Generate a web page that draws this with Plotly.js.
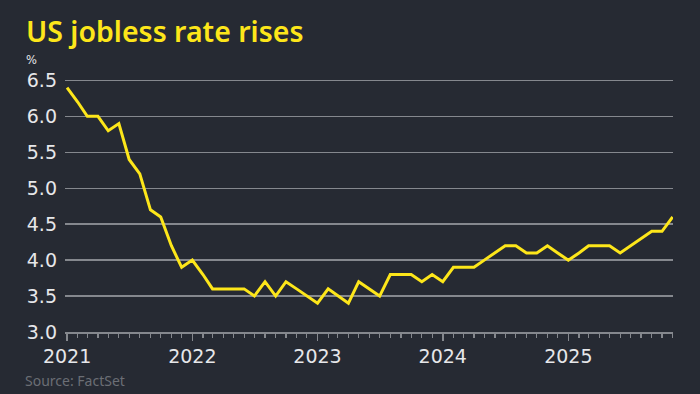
<!DOCTYPE html>
<html>
<head>
<meta charset="utf-8">
<script src="https://cdn.plot.ly/plotly-3.0.1.min.js"></script>
<style>
html,body{margin:0;padding:0;background:#262a33;}
#chart{width:700px;height:394px;}
</style>
</head>
<body>
<div id="chart"></div>
<script>
// Monthly US unemployment rate, Jan 2021 – Nov 2025 (%)
var months = [
  "2021-01","2021-02","2021-03","2021-04","2021-05","2021-06","2021-07","2021-08","2021-09","2021-10","2021-11","2021-12",
  "2022-01","2022-02","2022-03","2022-04","2022-05","2022-06","2022-07","2022-08","2022-09","2022-10","2022-11","2022-12",
  "2023-01","2023-02","2023-03","2023-04","2023-05","2023-06","2023-07","2023-08","2023-09","2023-10","2023-11","2023-12",
  "2024-01","2024-02","2024-03","2024-04","2024-05","2024-06","2024-07","2024-08","2024-09","2024-10","2024-11","2024-12",
  "2025-01","2025-02","2025-03","2025-04","2025-05","2025-06","2025-07","2025-08","2025-09","2025-10","2025-11"
];
var rate = [
  6.4,6.2,6.0,6.0,5.8,5.9,5.4,5.2,4.7,4.6,4.2,3.9,
  4.0,3.8,3.6,3.6,3.6,3.6,3.5,3.7,3.5,3.7,3.6,3.5,
  3.4,3.6,3.5,3.4,3.7,3.6,3.5,3.8,3.8,3.8,3.7,3.8,
  3.7,3.9,3.9,3.9,4.0,4.1,4.2,4.2,4.1,4.1,4.2,4.1,
  4.0,4.1,4.2,4.2,4.2,4.1,4.2,4.3,4.4,4.4,4.6
];
var yTicks = [3.0,3.5,4.0,4.5,5.0,5.5,6.0,6.5];
var yTickText = ["3.0","3.5","4.0","4.5","5.0","5.5","6.0","6.5"];
var xTicks = ["2021-01-01","2022-01-01","2023-01-01","2024-01-01","2025-01-01"];
var xTickText = ["2021","2022","2023","2024","2025"];
var titleText = "US jobless rate rises";
var unitText = "%";
var sourceText = "Source: FactSet";

var bg = "#262a33";
var grid = "#85888e";
var yellow = "#fde61a";
var tickFont = "'DejaVu Sans', sans-serif";
var textFont = "'Noto Sans', sans-serif";

var W = 700, H = 394, ML = 65, MR = 27, MT = 79, MB = 62;
var PW = W - ML - MR, PH = H - MT - MB;
function px(x) { return (x - ML) / PW; }
function py(y) { return (H - MB - y) / PH; }

var trace = {
  x: months,
  y: rate,
  type: "scatter",
  mode: "lines",
  line: {color: yellow, width: 3, shape: "linear"},
  hoverinfo: "skip"
};

var layout = {
  width: W,
  height: H,
  paper_bgcolor: bg,
  plot_bgcolor: bg,
  margin: {l: ML, r: MR, t: MT, b: MB},
  showlegend: false,
  font: {family: tickFont, color: "#e6e7ea"},
  xaxis: {
    type: "date",
    range: ["2020-12-26", "2025-11-02"],
    tickmode: "array",
    tickvals: xTicks,
    ticktext: xTickText,
    ticks: "outside",
    ticklen: 7,
    tickwidth: 1.5,
    tickcolor: grid,
    showline: true,
    linecolor: grid,
    linewidth: 1.5,
    showgrid: false,
    zeroline: false,
    tickfont: {family: tickFont, size: 19, color: "#e6e7ea"},
    minor: {dtick: "M1", tick0: "2021-01-01", ticks: "outside", ticklen: 4, tickwidth: 1.2, tickcolor: grid, showgrid: false},
    fixedrange: true
  },
  yaxis: {
    range: [3.0, 6.52],
    tickmode: "array",
    tickvals: yTicks,
    ticktext: yTickText,
    showgrid: true,
    gridcolor: grid,
    gridwidth: 1.5,
    zeroline: false,
    showline: false,
    ticks: "",
    ticklabelstandoff: 7,
    tickfont: {family: tickFont, size: 19, color: "#e6e7ea"},
    fixedrange: true
  },
  annotations: [
    {text: titleText, xref: "paper", yref: "paper", x: px(24), y: py(52), xanchor: "left", yanchor: "bottom",
     showarrow: false, font: {family: textFont, size: 28.5, color: yellow, weight: 600}},
    {text: unitText, xref: "paper", yref: "paper", x: px(24), y: py(69), xanchor: "left", yanchor: "bottom",
     showarrow: false, font: {family: tickFont, size: 11.5, color: "#e6e7ea"}},
    {text: sourceText, xref: "paper", yref: "paper", x: px(23), y: py(369), xanchor: "left", yanchor: "top",
     showarrow: false, font: {family: textFont, size: 14, color: "#6b6e75"}}
  ]
};

Plotly.newPlot("chart", [trace], layout, {displayModeBar: false, staticPlot: true});
</script>
</body>
</html>
